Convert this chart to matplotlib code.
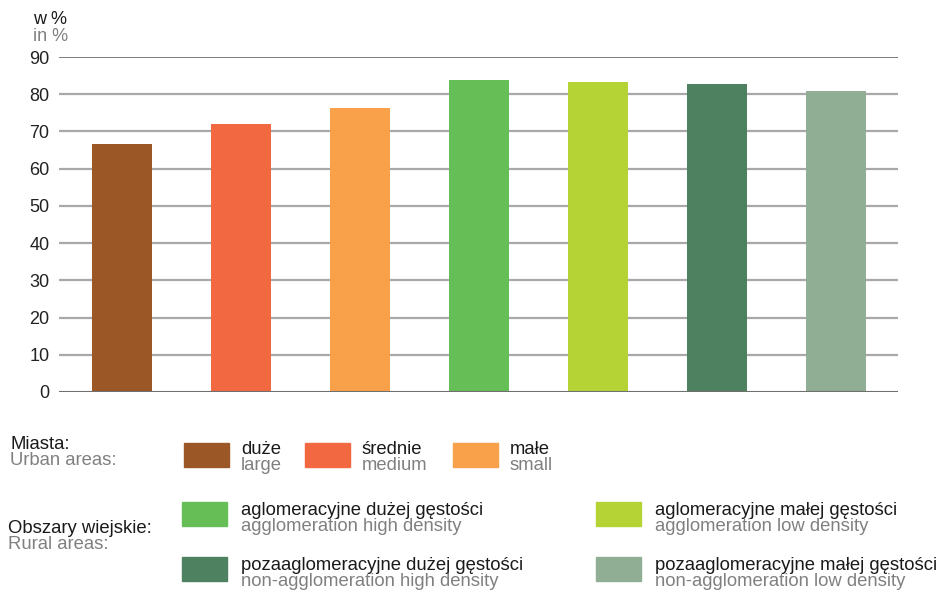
import matplotlib.pyplot as plt
from matplotlib.patches import Rectangle

plt.rcParams['font.family'] = ['Liberation Sans', 'DejaVu Sans']

# bar values (w % / in %)
categories = ["duże", "średnie", "małe",
              "aglomeracyjne dużej gęstości", "aglomeracyjne małej gęstości",
              "pozaaglomeracyjne dużej gęstości", "pozaaglomeracyjne małej gęstości"]
values = [66.5, 72.0, 76.3, 83.8, 83.3, 82.7, 80.9]
colors = ["#9C5727", "#F26841", "#F8A14A", "#66BE57", "#B5D335", "#4E8160", "#90AE94"]
yticks = [0, 10, 20, 30, 40, 50, 60, 70, 80, 90]

W, H = 940, 590
fig = plt.figure(figsize=(W / 100, H / 100), dpi=100)
ax = fig.add_axes([59 / W, 1 - 392 / H, (898 - 59) / W, (392 - 57) / H])

x = range(len(values))
ax.bar(x, values, width=0.5, color=colors, zorder=3)
ax.set_xlim(-0.53, 6.52)
ax.set_ylim(0, 90)
ax.set_yticks(yticks)
ax.set_xticks([])
for t in yticks[1:-1]:
    ax.axhline(t, color="#A8A8A8", lw=1.6, zorder=1)
ax.axhline(90, color="#707070", lw=1.3, zorder=1)
ax.axhline(0, color="#707070", lw=1.5, zorder=4)
for s in ax.spines.values():
    s.set_visible(False)
ax.tick_params(axis='y', length=0, pad=7, labelsize=13, labelcolor="#222222")

def px(xp, yp):
    return xp / W, 1 - yp / H

dark = "#1a1a1a"
grey = "#808080"
fs = 13.3

fig.text(*px(33, 24), "w %", fontsize=13, color=dark, va="baseline")
fig.text(*px(33, 41), "in %", fontsize=13, color=grey, va="baseline")

def swatch(x0, y0, c):
    fig.patches.append(Rectangle(px(x0, y0 + 24), 45 / W, 24 / H, color=c,
                                 transform=fig.transFigure, figure=fig))

def label(x0, y0, pl, en):
    fig.text(*px(x0, y0), pl, fontsize=fs, color=dark, va="baseline")
    fig.text(*px(x0, y0 + 16), en, fontsize=fs, color=grey, va="baseline")

# urban areas
label(10, 449, "Miasta:", "Urban areas:")
urban_en = ["large", "medium", "small"]
for i, xs in enumerate([184, 305, 453]):
    swatch(xs, 443, colors[i])
    label(xs + 57, 454, categories[i], urban_en[i])

# rural areas
label(8, 533, "Obszary wiejskie:", "Rural areas:")
rural_en = ["agglomeration high density", "agglomeration low density",
            "non-agglomeration high density", "non-agglomeration low density"]
pos = [(182, 502), (596, 502), (182, 557), (596, 557)]
for j, (xs, ys) in enumerate(pos):
    swatch(xs, ys, colors[3 + j])
    label(xs + 59, ys + 13, categories[3 + j], rural_en[j])

fig.savefig("out.png", dpi=100)
